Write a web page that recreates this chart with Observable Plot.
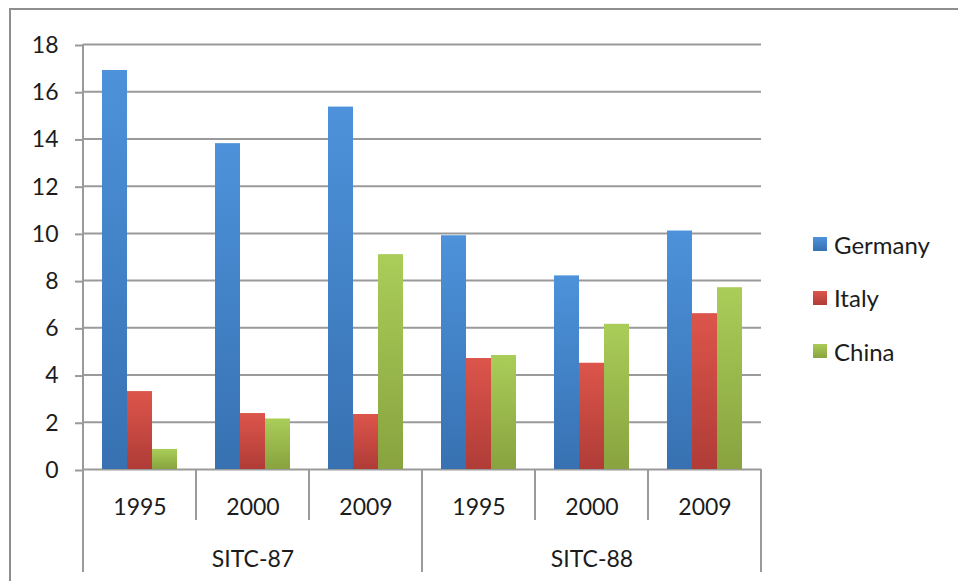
<!DOCTYPE html>
<html>
<head>
<meta charset="utf-8">
<script src="https://cdn.jsdelivr.net/npm/d3@7"></script>
<script src="https://cdn.jsdelivr.net/npm/@observablehq/plot@0.6"></script>
<style>
  html, body { margin: 0; padding: 0; background: #fff; overflow: hidden; }
  #wrap { position: relative; width: 958px; height: 581px; font-family: Lato, "Open Sans", sans-serif; color: #1c1c1c; }
  #border { position: absolute; left: 9px; top: 8px; width: 1200px; height: 1200px; border: 2px solid #8e8e8e; box-sizing: border-box; }
  #chart { position: absolute; left: 0; top: 0; }
  .item { position: absolute; left: 813px; display: flex; align-items: center; height: 24px; font-size: 24px; }
  .sw { width: 14px; height: 14px; margin-right: 7px; }
</style>
</head>
<body>
<svg width="0" height="0" style="position:absolute">
  <defs>
    <linearGradient id="grad-Germany" x1="0" y1="0" x2="0" y2="1">
      <stop offset="0" stop-color="#4d92da"/><stop offset="1" stop-color="#3771b2"/>
    </linearGradient>
    <linearGradient id="grad-Italy" x1="0" y1="0" x2="0" y2="1">
      <stop offset="0" stop-color="#dc554b"/><stop offset="1" stop-color="#b03c37"/>
    </linearGradient>
    <linearGradient id="grad-China" x1="0" y1="0" x2="0" y2="1">
      <stop offset="0" stop-color="#aacd59"/><stop offset="1" stop-color="#88a33f"/>
    </linearGradient>
  </defs>
</svg>
<div id="wrap">
  <div id="border"></div>
  <div id="chart"></div>
</div>
<script>
// Product groups and years (two-level category axis)
const groups = ["SITC-87", "SITC-88"];
const years = ["1995", "2000", "2009"];
const countries = ["Germany", "Italy", "China"];

// Values per category, in order SITC-87 1995/2000/2009, SITC-88 1995/2000/2009
const germany = [16.9, 13.8, 15.35, 9.9, 8.2, 10.1];
const italy   = [3.3, 2.37, 2.33, 4.7, 4.5, 6.6];
const china   = [0.85, 2.14, 9.1, 4.83, 6.15, 7.7];

const yTicks = [0, 2, 4, 6, 8, 10, 12, 14, 16, 18];

const seriesValues = {Germany: germany, Italy: italy, China: china};
const swatchCss = {
  Germany: "linear-gradient(#4d92da, #3771b2)",
  Italy: "linear-gradient(#dc554b, #b03c37)",
  China: "linear-gradient(#aacd59, #88a33f)"
};

// category keys "group year"
const keys = [];
groups.forEach(g => years.forEach(y => keys.push(`${g} ${y}`)));

const rows = [];
keys.forEach((k, i) => {
  countries.forEach(c => rows.push({key: k, country: c, value: seriesValues[c][i]}));
});

const gridColor = "#9a9a9a";

const chart = Plot.plot({
  width: 958,
  height: 581,
  marginLeft: 80,
  marginRight: 195,
  marginTop: 44,
  marginBottom: 112,
  style: {fontFamily: "Lato, 'Open Sans', sans-serif", fontSize: "23px", color: "#1c1c1c", background: "transparent"},
  fx: {domain: keys, padding: 0, axis: null},
  x: {domain: countries, paddingInner: 0, paddingOuter: 0.75, axis: null},
  y: {domain: [0, 18], axis: null},
  color: {domain: countries, range: countries.map(c => `url(#grad-${c})`)},
  marks: [
    Plot.gridY(yTicks, {stroke: gridColor, strokeOpacity: 1, strokeWidth: 2}),
    Plot.axisY(yTicks, {tickSize: 8, tickPadding: 17, stroke: gridColor, strokeWidth: 2, fontSize: 23, dy: 1, label: null}),
    Plot.barY(rows, {fx: "key", x: "country", y: "value", fill: "country"}),
    Plot.axisFx({anchor: "bottom", tickSize: 0, tickPadding: 29, fontSize: 23, label: null,
      tickFormat: k => k.split(" ")[1]}),
    Plot.axisFx({anchor: "bottom", tickSize: 0, tickPadding: 81, fontSize: 23, label: null,
      tickFormat: k => k.endsWith(years[1]) ? k.split(" ")[0] : ""})
  ]
});
document.getElementById("chart").appendChild(chart);

// category-axis frame: left axis line, dividers between years and groups
const fx = chart.scale("fx");
const ys = chart.scale("y");
const x0 = k => fx.apply(k);
const right = fx.apply(keys[keys.length - 1]) + fx.bandwidth;
const yBase = ys.apply(0), yTop = ys.apply(18);
const g = d3.select(chart).append("g").attr("stroke", gridColor).attr("stroke-width", 2);
g.append("line").attr("x1", x0(keys[0])).attr("x2", x0(keys[0])).attr("y1", yTop).attr("y2", yBase + 103);
keys.forEach((k, i) => {
  if (i === 0) return;
  const long = i % years.length === 0;
  g.append("line").attr("x1", x0(k)).attr("x2", x0(k)).attr("y1", yBase).attr("y2", yBase + (long ? 103 : 51));
});
g.append("line").attr("x1", right).attr("x2", right).attr("y1", yBase).attr("y2", yBase + 103);

// legend
const wrap = document.getElementById("wrap");
countries.forEach((c, i) => {
  const item = document.createElement("div");
  item.className = "item";
  item.style.top = (232 + i * 53.5) + "px";
  item.innerHTML = `<div class="sw" style="background:${swatchCss[c]}"></div><span>${c}</span>`;
  wrap.appendChild(item);
});
</script>
</body>
</html>
